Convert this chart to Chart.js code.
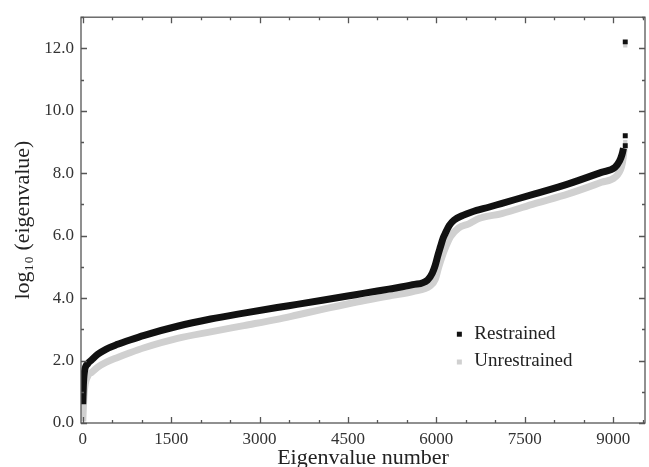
<!DOCTYPE html>
<html>
<head>
<meta charset="utf-8">
<script src="https://cdn.jsdelivr.net/npm/chart.js@4.4.1/dist/chart.umd.min.js"></script>
<style>
  html, body { margin: 0; padding: 0; background: #fff; }
  #wrap { width: 649px; height: 467px; }
</style>
</head>
<body>
<div id="wrap"><canvas id="c" width="649" height="467"></canvas></div>
<script>
// ---- data ----
const xTickValues = [0, 1500, 3000, 4500, 6000, 7500, 9000];
const yTickValues = [0, 2, 4, 6, 8, 10, 12];

const restrainedX = [0, 10, 25, 85, 150, 254, 400, 592, 800, 1043, 1607, 2170, 2734, 3298, 3636, 4064, 4628, 5000, 5192, 5600, 5850, 5930, 5980, 6030, 6070, 6110, 6150, 6220, 6300, 6450, 6600, 6900, 7100, 7670, 8240, 8800, 9030, 9110, 9150, 9175];
const restrainedY = [0.6, 1.2, 1.6, 1.9, 2.02, 2.20, 2.37, 2.52, 2.66, 2.81, 3.10, 3.33, 3.52, 3.70, 3.80, 3.93, 4.11, 4.23, 4.29, 4.43, 4.58, 4.80, 5.05, 5.40, 5.65, 5.90, 6.07, 6.33, 6.50, 6.65, 6.76, 6.92, 7.03, 7.34, 7.66, 8.03, 8.19, 8.40, 8.60, 8.80];
const restrainedTailX = [9205, 9205, 9205];
const restrainedTailY = [8.88, 9.20, 12.21];

const unrestrainedX = [0, 10, 28, 85, 150, 254, 400, 592, 800, 1043, 1607, 2170, 2734, 3298, 3636, 4064, 4628, 5000, 5192, 5600, 5900, 5980, 6040, 6100, 6150, 6240, 6380, 6550, 6720, 7110, 7670, 8240, 8800, 9030, 9140, 9170, 9185];
const unrestrainedY = [0.05, 0.5, 1.05, 1.5, 1.62, 1.79, 1.95, 2.10, 2.25, 2.41, 2.71, 2.92, 3.12, 3.32, 3.46, 3.64, 3.87, 4.00, 4.07, 4.21, 4.40, 4.60, 5.00, 5.35, 5.60, 5.97, 6.25, 6.38, 6.55, 6.71, 7.03, 7.34, 7.71, 7.87, 8.20, 8.50, 8.77];
const unrestrainedTailX = [9205, 9205];
const unrestrainedTailY = [9.0, 12.1];

const seriesNames = ['Restrained', 'Unrestrained'];

// ---- build ----
const pts = (xs, ys) => xs.map((x, i) => ({ x: x, y: ys[i] }));
const BLACK = '#111111';
const GRAY = '#d0d0d0';
const serif = '"Liberation Serif", "Times New Roman", serif';

const framePlugin = {
  id: 'frame',
  afterDraw(chart) {
    const { ctx, chartArea: a, scales: { x, y } } = chart;
    ctx.save();
    ctx.strokeStyle = '#555';
    ctx.lineWidth = 1.3;
    ctx.strokeRect(a.left, a.top, a.right - a.left, a.bottom - a.top);
    ctx.beginPath();
    for (let v = 0; v <= x.max; v += 500) {
      const px = Math.round(x.getPixelForValue(v)) + 0.5;
      const len = v % 1500 === 0 ? 6 : 3;
      ctx.moveTo(px, a.bottom); ctx.lineTo(px, a.bottom - len);
      ctx.moveTo(px, a.top); ctx.lineTo(px, a.top + len);
    }
    for (let v = 0; v <= y.max; v += 1) {
      const py = Math.round(y.getPixelForValue(v)) + 0.5;
      const len = v % 2 === 0 ? 6 : 3;
      ctx.moveTo(a.left, py); ctx.lineTo(a.left + len, py);
      ctx.moveTo(a.right, py); ctx.lineTo(a.right - len, py);
    }
    ctx.stroke();

    // legend inside plot
    const ds = chart.data.datasets;
    const lx = x.getPixelForValue(6390);
    const rows = [y.getPixelForValue(2.86), y.getPixelForValue(1.97)];
    ctx.font = '19px ' + serif;
    ctx.textBaseline = 'middle';
    ctx.textAlign = 'left';
    for (let i = 0; i < 2; i++) {
      ctx.fillStyle = ds[i].legendColor;
      ctx.fillRect(lx - 2.5, rows[i] - 2, 5, 5);
      ctx.fillStyle = '#222';
      ctx.fillText(ds[i].label, lx + 15, rows[i]);
    }
    ctx.restore();
  }
};

new Chart(document.getElementById('c'), {
  type: 'scatter',
  data: {
    datasets: [
      { label: seriesNames[0], legendColor: BLACK, data: pts(restrainedX, restrainedY), showLine: true,
        borderColor: BLACK, borderWidth: 7, pointRadius: 0, cubicInterpolationMode: 'monotone' },
      { label: seriesNames[1], legendColor: GRAY, data: pts(unrestrainedX, unrestrainedY), showLine: true,
        borderColor: GRAY, borderWidth: 7, pointRadius: 0, cubicInterpolationMode: 'monotone' },
      { label: seriesNames[0] + ' (tail)', data: pts(restrainedTailX, restrainedTailY), showLine: false,
        pointStyle: 'rect', pointRadius: 3.5, backgroundColor: BLACK, borderColor: BLACK, borderWidth: 0 },
      { label: seriesNames[1] + ' (tail)', data: pts(unrestrainedTailX, unrestrainedTailY), showLine: false,
        pointStyle: 'rect', pointRadius: 3, backgroundColor: GRAY, borderColor: GRAY, borderWidth: 0, order: 5 }
    ]
  },
  options: {
    responsive: false,
    animation: false,
    layout: { padding: { top: 14, right: 2, left: 0, bottom: 0 } },
    plugins: { legend: { display: false }, tooltip: { enabled: false } },
    scales: {
      x: {
        type: 'linear', min: -30, max: 9540,
        afterBuildTicks: s => { s.ticks = xTickValues.map(v => ({ value: v })); },
        afterFit: s => { s.height = 44; },
        grid: { display: false, drawTicks: false },
        border: { display: false },
        ticks: { font: { family: serif, size: 17 }, color: '#333', padding: 6, maxRotation: 0,
                 callback: v => String(v) },
        title: { display: true, text: 'Eigenvalue number', font: { family: serif, size: 22, lineHeight: 1 },
                 color: '#222', padding: { top: 0, bottom: -2 } }
      },
      y: {
        type: 'linear', min: 0, max: 13,
        afterBuildTicks: s => { s.ticks = yTickValues.map(v => ({ value: v })); },
        afterFit: s => { s.width = 81; },
        grid: { display: false, drawTicks: false },
        border: { display: false },
        ticks: { font: { family: serif, size: 17 }, color: '#333', padding: 7,
                 callback: v => v.toFixed(1) },
        title: { display: true, text: 'log₁₀ (eigenvalue)', font: { family: serif, size: 22, lineHeight: 1 },
                 color: '#222', padding: { top: 12, bottom: 0 } }
      }
    }
  },
  plugins: [framePlugin]
});
</script>
</body>
</html>
